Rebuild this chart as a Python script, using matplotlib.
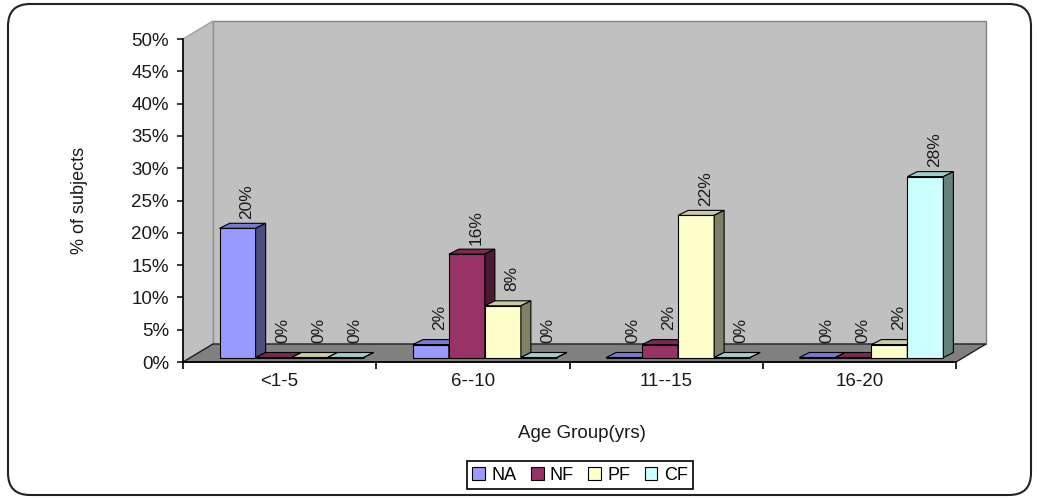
import matplotlib
matplotlib.use('Agg')
import matplotlib.pyplot as plt
from matplotlib.patches import Polygon, FancyBboxPatch
from matplotlib.colors import to_rgb
import numpy as np

plt.rcParams['font.family'] = ['Liberation Sans', 'DejaVu Sans']

groups = ['<1-5', '6--10', '11--15', '16-20']
series = ['NA', 'NF', 'PF', 'CF']
na = [20, 2, 0, 0]
nf = [0, 16, 2, 0]
pf = [0, 8, 22, 2]
cf = [0, 0, 0, 28]
colors = ['#9999ff', '#993366', '#ffffcc', '#ccffff']
yticks = list(range(0, 51, 5))


def shade(c, f):
    r, g, b = to_rgb(c)
    return (r * f, g * f, b * f)


W, H = 1037, 498
fig = plt.figure(figsize=(W / 100, H / 100), dpi=100)
ax = fig.add_axes([183 / W, 1 - 362 / H, 773 / W, 323 / H])
ax.set_xlim(0, len(groups))
ax.set_ylim(0, 50)
ax.patch.set_visible(False)

# pixel sizes in data units
px = len(groups) / 773
py = 50 / 323

# walls and floor (oblique depth)
wdx, wdy = 30 * px, 18 * py
nx = len(groups)
back = Polygon([(wdx, wdy), (nx + wdx, wdy), (nx + wdx, 50 + wdy), (wdx, 50 + wdy)],
               fc='#c0c0c0', ec='#808080', lw=1, clip_on=False, zorder=0)
side = Polygon([(0, 0), (wdx, wdy), (wdx, 50 + wdy), (0, 50)],
               fc='#c0c0c0', ec='#a0a0a0', lw=1, clip_on=False, zorder=0)
floor = Polygon([(0, 0), (nx, 0), (nx + wdx, wdy), (wdx, wdy)],
                fc='#808080', ec='#202020', lw=1, clip_on=False, zorder=1)
for p in (back, side, floor):
    ax.add_patch(p)

# bars
bw = 36 * px
bx, by = 12 * px, 4.5 * py
ddx, ddy = 10 * px, 5 * py
for j, vals in enumerate([na, nf, pf, cf]):
    left = np.arange(nx) + 0.5 - 2 * bw + j * bw + bx
    bars = ax.bar(left, vals, bw, bottom=by, align='edge', color=colors[j],
                  ec='k', lw=0.8, label=series[j], zorder=3 + j, clip_on=False)
    for b, v in zip(bars, vals):
        x0 = b.get_x()
        x1 = x0 + b.get_width()
        y0 = b.get_y()
        y1 = y0 + b.get_height()
        top = Polygon([(x0, y1), (x1, y1), (x1 + ddx, y1 + ddy), (x0 + ddx, y1 + ddy)],
                      fc=shade(colors[j], 0.8), ec='k', lw=0.8, zorder=3 + j, clip_on=False)
        sd = Polygon([(x1, y0), (x1 + ddx, y0 + ddy), (x1 + ddx, y1 + ddy), (x1, y1)],
                     fc=shade(colors[j], 0.5), ec='k', lw=0.8, zorder=3 + j, clip_on=False)
        ax.add_patch(top)
        ax.add_patch(sd)
        ax.text(x0 + bw / 2 + 9 * px, y1 + ddy + 22 * py, f'{v}%', rotation=90,
                ha='center', va='center', fontsize=12.5, color='#1a1a1a', zorder=10)

# axes
for s in ('top', 'right'):
    ax.spines[s].set_visible(False)
ax.spines['left'].set_linewidth(1.2)
ax.spines['bottom'].set_linewidth(1.2)
ax.spines['left'].set_zorder(2)
ax.spines['bottom'].set_zorder(2)

ax.set_yticks(yticks)
ax.yaxis.set_major_formatter(lambda v, p: f'{v:.0f}%')
ax.tick_params(axis='y', length=4, width=1.2, pad=6, labelsize=13.5, colors='#1a1a1a')

ax.set_xticks(range(nx + 1))
ax.set_xticklabels([])
ax.set_xticks(np.arange(nx) + 0.5, minor=True)
ax.set_xticklabels(groups, minor=True)
ax.tick_params(axis='x', which='major', length=5, width=1.2)
ax.tick_params(axis='x', which='minor', length=0, pad=8, labelsize=13.5, colors='#1a1a1a')

ax.text(-0.1345, 0.5, '% of subjects', transform=ax.transAxes, rotation=90,
        ha='center', va='center', fontsize=13, color='#1a1a1a')
fig.text(582 / W, 1 - 433 / H, 'Age Group(yrs)', ha='center', va='center',
         fontsize=13.5, color='#1a1a1a')

handles, labels = ax.get_legend_handles_labels()
leg = fig.legend(handles, labels, loc='center', bbox_to_anchor=(580 / W, 1 - 475 / H),
                 ncol=4, frameon=True, fancybox=False, edgecolor='k', framealpha=1,
                 fontsize=13, handlelength=0.7, handleheight=0.7, handletextpad=0.35,
                 columnspacing=0.8, borderpad=0.3)
leg.get_frame().set_linewidth(1.2)

# outer chart border
border = FancyBboxPatch((0.08, 0.03), 10.23, 4.91, boxstyle='round,pad=0,rounding_size=0.22',
                        transform=fig.dpi_scale_trans, fill=False, ec='#222222', lw=1.5)
fig.add_artist(border)

fig.savefig('out.png', dpi=100)
